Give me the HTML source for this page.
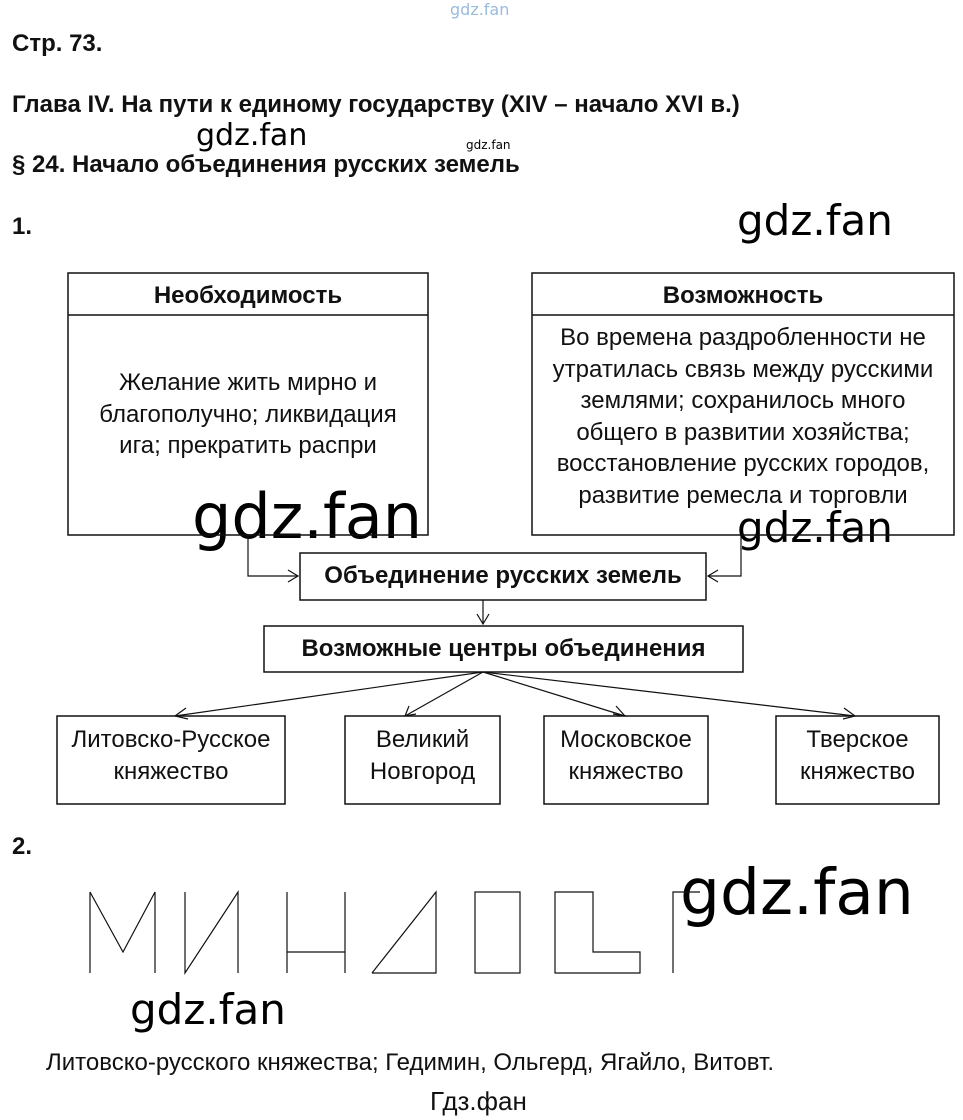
<!DOCTYPE html>
<html><head><meta charset="utf-8"><style>
body{margin:0;width:963px;height:1120px;background:#fff;position:relative;overflow:hidden;font-family:"Liberation Sans","DejaVu Sans",sans-serif;color:#111}
.a{position:absolute;white-space:nowrap}
.b{font-weight:bold;font-size:24px}
.wm{position:absolute;font-family:"DejaVu Sans","Liberation Sans",sans-serif;color:#000;white-space:nowrap}
.t{font-size:24px;text-align:center;line-height:31.5px;position:absolute;white-space:nowrap}
</style></head><body>
<div class="a b" style="left:12px;top:30px">Стр. 73.</div>
<div class="a b" style="left:12px;top:91px">Глава IV. На пути к единому государству (XIV – начало XVI в.)</div>
<div class="a b" style="left:12px;top:151px">§ 24. Начало объединения русских земель</div>
<div class="a b" style="left:12px;top:213px">1.</div>
<div class="a b" style="left:12px;top:833px">2.</div>
<div class="wm" style="left:450px;top:0px;font-size:16px;color:#9bd">gdz.fan</div>
<div class="wm" style="left:196px;top:118px;font-size:30px">gdz.fan</div>
<div class="wm" style="left:466px;top:138px;font-size:12px">gdz.fan</div>
<div class="wm" style="left:737px;top:196px;font-size:42px">gdz.fan</div>
<div class="wm" style="left:192px;top:480px;font-size:62px">gdz.fan</div>
<div class="wm" style="left:737px;top:503px;font-size:42px">gdz.fan</div>
<div class="wm" style="left:680px;top:856px;font-size:63px">gdz.fan</div>
<div class="wm" style="left:130px;top:985px;font-size:42px">gdz.fan</div>

<svg width="963" height="1120" style="position:absolute;left:0;top:0" fill="none" stroke="#111" stroke-width="1.5">
<rect x="68" y="273" width="360" height="262"/><line x1="68" y1="315" x2="428" y2="315"/>
<rect x="532" y="273" width="422" height="262"/><line x1="532" y1="315" x2="954" y2="315"/>
<rect x="300" y="553" width="406" height="47"/>
<rect x="264" y="626" width="479" height="46"/>
<rect x="57" y="716" width="228" height="88"/>
<rect x="345" y="716" width="155" height="88"/>
<rect x="544" y="716" width="164" height="88"/>
<rect x="776" y="716" width="163" height="88"/>
<g stroke-width="1.2">
<polyline points="248,535 248,576 298,576"/><polyline points="288,570 298,576 288,582"/>
<polyline points="741,535 741,576 708,576"/><polyline points="718,570 708,576 718,582"/>
<line x1="483" y1="600" x2="483" y2="624"/><polyline points="477,614 483,624 489,614"/>
<line x1="483" y1="672" x2="175" y2="716"/><polyline points="186,708 175,716 188,719"/>
<line x1="483" y1="672" x2="405" y2="716"/><polyline points="409,706 405,716 416,714"/>
<line x1="483" y1="672" x2="625" y2="716"/><polyline points="613,714 625,716 616,706"/>
<line x1="483" y1="672" x2="855" y2="716"/><polyline points="843,719 855,716 844,708"/>
</g>
<g stroke-width="1.2">
<polyline points="90,973 90,892 123,952 155,892 155,973"/>
<polyline points="185,892 185,973 238,892 238,973"/>
<line x1="287" y1="892" x2="287" y2="973"/><line x1="345" y1="892" x2="345" y2="973"/><line x1="287" y1="952" x2="345" y2="952"/>
<polyline points="372,973 436,892 436,973 372,973"/>
<rect x="475" y="892" width="45" height="81"/>
<polygon points="555,892 593,892 593,952 640,952 640,973 555,973"/>
<polyline points="673,973 673,892 700,892"/>
</g>
</svg>
<div class="a b" style="left:68px;width:360px;text-align:center;top:282px">Необходимость</div>
<div class="a b" style="left:532px;width:422px;text-align:center;top:282px">Возможность</div>
<div class="t" style="left:68px;width:360px;top:367px">Желание жить мирно и<br>благополучно; ликвидация<br>ига; прекратить распри</div>
<div class="t" style="left:532px;width:422px;top:322px">Во времена раздробленности не<br>утратилась связь между русскими<br>землями; сохранилось много<br>общего в развитии хозяйства;<br>восстановление русских городов,<br>развитие ремесла и торговли</div>
<div class="a b" style="left:300px;width:406px;text-align:center;top:562px">Объединение русских земель</div>
<div class="a b" style="left:264px;width:479px;text-align:center;top:635px">Возможные центры объединения</div>
<div class="t" style="left:57px;width:228px;top:724px">Литовско-Русское<br>княжество</div>
<div class="t" style="left:345px;width:155px;top:724px">Великий<br>Новгород</div>
<div class="t" style="left:544px;width:164px;top:724px">Московское<br>княжество</div>
<div class="t" style="left:776px;width:163px;top:724px">Тверское<br>княжество</div>
<div class="a" style="left:46px;top:1049px;font-size:24px">Литовско-русского княжества; Гедимин, Ольгерд, Ягайло, Витовт.</div>
<div class="a" style="left:430px;top:1086px;font-size:26px">Гдз.фан</div>
</body></html>
